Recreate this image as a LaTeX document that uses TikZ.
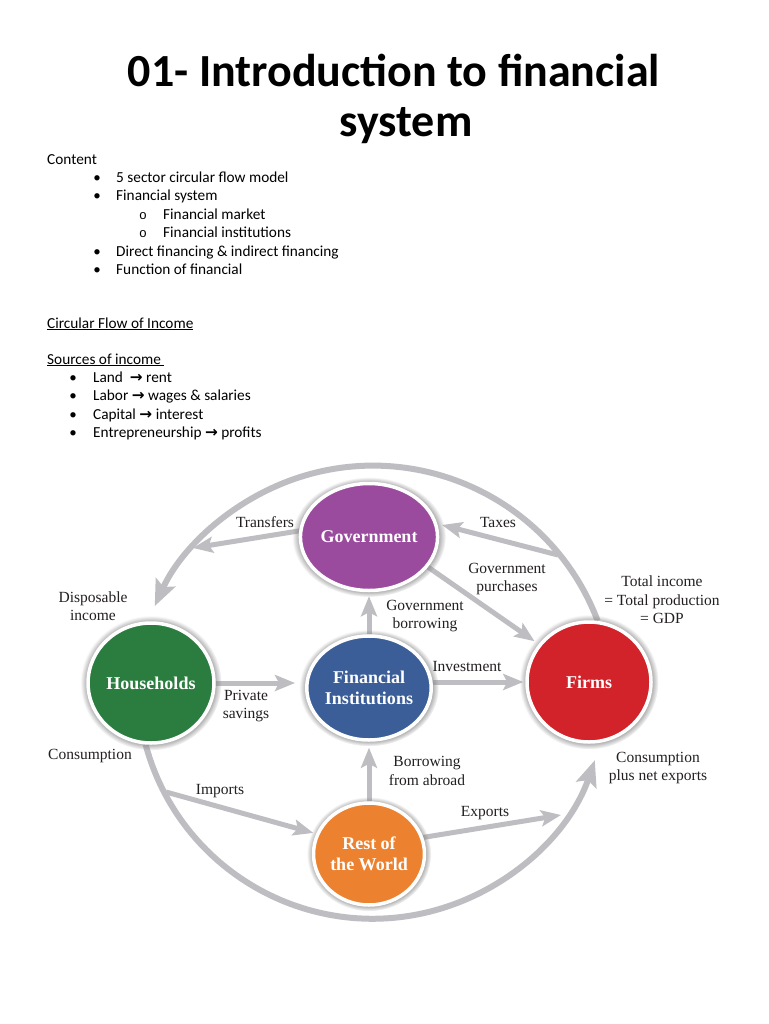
\documentclass[tikz,border=0pt]{standalone}
\usepackage{fontspec}
\setmainfont{Carlito}
\newfontfamily\tnr{Liberation Serif}
\newfontfamily\dvs{DejaVu Sans}
\newfontfamily\cmono{Liberation Mono}
\usetikzlibrary{arrows.meta,shapes.geometric,shadows}
\definecolor{arrgray}{HTML}{BEBEC2}
\definecolor{cgov}{HTML}{9A4B9D}
\definecolor{cfi}{HTML}{3B5E99}
\definecolor{cfirm}{HTML}{D2232B}
\definecolor{chh}{HTML}{2A7D3E}
\definecolor{crow}{HTML}{EC8230}
\definecolor{ctext}{HTML}{231F20}
\pgfdeclarelayer{bg}
\pgfsetlayers{bg,main}
\newcommand{\arr}{{\dvs\bfseries →}}
\begin{document}
\begin{tikzpicture}[x=1pt,y=-1pt,
  body/.style={anchor=base west, inner sep=0pt, font=\fontsize{15.3}{18}\selectfont},
  bul/.style={anchor=base, inner sep=0pt, font=\fontsize{15}{18}\selectfont},
  subbul/.style={anchor=base, inner sep=0pt, font=\cmono\fontsize{13}{15}\selectfont},
  lbl/.style={align=center, inner sep=0pt, text=ctext, font=\tnr\fontsize{15.5}{18.5}\selectfont},
  sector/.style={ellipse, draw=white, line width=3.5pt, text=white, align=center, inner sep=0pt,
     font=\tnr\bfseries\fontsize{18}{21}\selectfont, circular glow={fill=black!50, shadow scale=1.12}},
  flow/.style={draw=arrgray, line width=5pt, -{Stealth[length=20pt,width=16pt,inset=4pt]}},
  bigflow/.style={draw=arrgray, line width=6pt, -{Stealth[length=26pt,width=21pt,inset=5pt]}}
]
\useasboundingbox (0,0) rectangle (768,1024);
\begin{pgfonlayer}{bg}
\fill[white] (0,0) rectangle (768,1024);
\end{pgfonlayer}

% title
\node[anchor=base, inner sep=0pt, font=\bfseries\fontsize{46}{50}\selectfont] (title1) at (394,87) {01- Introduction to financial};
\node[anchor=base, inner sep=0pt, font=\bfseries\fontsize{46}{50}\selectfont] (title2) at (406,137) {system};

% content list
\node[body] (tcontent) at (47,165) {Content};
\node[bul] (b1) at (97,183) {•};
\node[body] (t1) at (116,183) {5 sector circular flow model};
\node[bul] (b2) at (97,201) {•};
\node[body] (t2) at (116,201) {Financial system};
\node[subbul] (b3) at (143,219) {o};
\node[body] (t3) at (163,219) {Financial market};
\node[subbul] (b4) at (143,237) {o};
\node[body] (t4) at (163,237) {Financial institutions};
\node[bul] (b5) at (97,256) {•};
\node[body] (t5) at (116,256) {Direct financing \& indirect financing};
\node[bul] (b6) at (97,274) {•};
\node[body] (t6) at (116,274) {Function of financial};

\node[body] (tcf) at (47,328) {\underline{Circular Flow of Income}};
\node[body] (tso) at (47,364) {\underline{Sources of income\ }};
\node[bul] (b7) at (73,382) {•};
\node[body] (t7) at (93,382) {Land\ \ \arr\ rent};
\node[bul] (b8) at (73,400) {•};
\node[body] (t8) at (93,400) {Labor\ \arr\ wages \& salaries};
\node[bul] (b9) at (73,419) {•};
\node[body] (t9) at (93,419) {Capital\ \arr\ interest};
\node[bul] (b10) at (73,437) {•};
\node[body] (t10) at (93,437) {Entrepreneurship\ \arr\ profits};

% sectors
\node[sector, fill=cgov, minimum width=113pt, minimum height=107pt] (gov) at (369,537) {Government};
\node[sector, fill=cfi, minimum width=111pt, minimum height=104pt] (fi) at (369,688) {Financial\\Institutions};
\node[sector, fill=chh, minimum width=123pt, minimum height=120pt] (hh) at (151,683) {Households};
\node[sector, fill=cfirm, minimum width=124pt, minimum height=120pt] (firms) at (589,682) {Firms};
\node[sector, fill=crow, minimum width=111pt, minimum height=102pt] (row) at (369,854) {Rest of\\the World};

% free ends
\coordinate (taxst) at (558,555);
\coordinate (trtip) at (193,548);
\coordinate (impst) at (166,792);
\coordinate (exptip) at (561,815);

\begin{pgfonlayer}{bg}
\draw[bigflow] (firms.82) arc[start angle=-20.7, end angle=-155.5, radius=240];
\draw[bigflow] (hh.265) arc[start angle=165, end angle=19, radius=235];
\draw[flow, shorten >=5pt] (taxst) -- (gov.11);
\draw[flow] (gov.175) -- (trtip);
\draw[flow, shorten >=5pt] (gov.-27) -- (firms.143);
\draw[flow, shorten >=4pt] (fi.north) -- (gov.south);
\draw[flow, shorten >=10pt] (hh.east) -- (hh.east -| fi.west);
\draw[flow, shorten >=2pt] (fi.east |- firms.west) -- (firms.west);
\draw[flow, shorten >=6pt] (row.north) -- (fi.south);
\draw[flow, shorten >=3pt] (impst) -- (row.159);
\draw[flow] (row.17) -- (exptip);
\end{pgfonlayer}

% labels
\node[lbl] (ltr) at (265,522) {Transfers};
\node[lbl] (ltax) at (498,522) {Taxes};
\node[lbl] (lgp) at (507,579) {Government\\purchases};
\node[lbl] (lgb) at (425,616) {Government\\borrowing};
\node[lbl] (ldi) at (93,606) {Disposable\\income};
\node[lbl] (lti) at (662,600) {Total income\\= Total production\\= GDP};
\node[lbl] (linv) at (467,666) {Investment};
\node[lbl] (lps) at (246,706) {Private\\savings};
\node[lbl] (lco) at (90,756) {Consumption};
\node[lbl] (lcn) at (658,768) {Consumption\\plus net exports};
\node[lbl] (lbfa) at (427,771) {Borrowing\\from abroad};
\node[lbl] (limp) at (220,791) {Imports};
\node[lbl] (lexp) at (485,813) {Exports};
\end{tikzpicture}
\end{document}
